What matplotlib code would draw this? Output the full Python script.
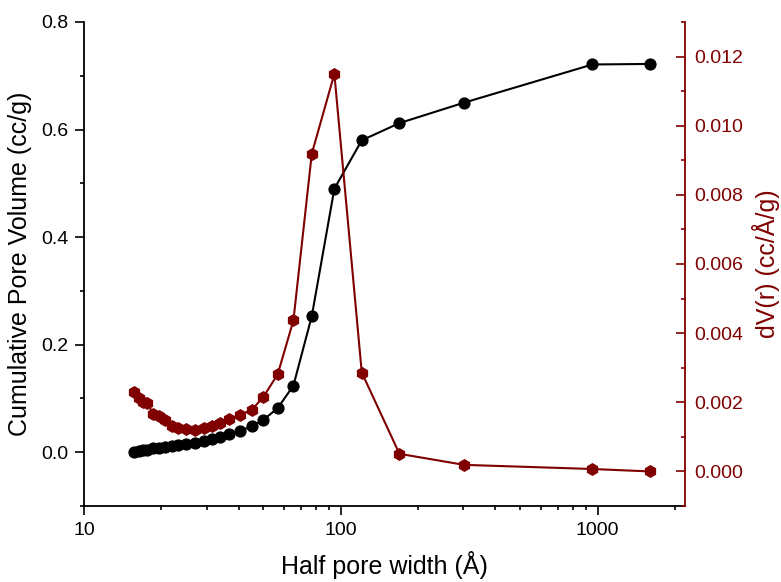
import matplotlib
matplotlib.use("Agg")
import matplotlib.pyplot as plt
from matplotlib.ticker import MultipleLocator, FixedLocator, NullFormatter, LogLocator

plt.rcParams['font.family'] = ['Liberation Sans', 'DejaVu Sans']

half_width = [15.6, 16.4, 17.0, 17.65, 18.6, 19.65, 20.7, 21.95, 23.3, 24.9, 27.0,
              29.2, 31.4, 33.9, 36.8, 40.5, 45.0, 49.9, 56.8, 65.4, 77.1, 94.4,
              120.7, 169.2, 302.0, 955.0, 1594.0]
cum_volume = [0.001, 0.003, 0.004, 0.005, 0.007, 0.008, 0.010, 0.011, 0.013, 0.015, 0.018,
              0.021, 0.024, 0.029, 0.034, 0.040, 0.048, 0.060, 0.082, 0.124, 0.253, 0.490,
              0.580, 0.612, 0.650, 0.721, 0.722]
dv = [0.00229, 0.00212, 0.00202, 0.00198, 0.00166, 0.00159, 0.00150, 0.00132, 0.00127,
      0.00124, 0.00119, 0.00126, 0.00130, 0.00140, 0.00152, 0.00164, 0.00178, 0.00215,
      0.00281, 0.00437, 0.00919, 0.01150, 0.00286, 0.00051, 0.00019, 0.00007, 0.00000]

left_ticks = [0.0, 0.2, 0.4, 0.6, 0.8]
right_ticks = [0.000, 0.002, 0.004, 0.006, 0.008, 0.010, 0.012]
x_ticks = [10, 100, 1000]

red = '#800000'

fig = plt.figure(figsize=(7.81, 5.82), dpi=100)
ax = fig.add_axes([84/781, 1-506/582, (685-84)/781, (506-22)/582])
ax2 = ax.twinx()

ax.plot(half_width, cum_volume, '-o', color='black', lw=1.5, ms=7.8, zorder=3)
ax2.plot(half_width, dv, '-h', color=red, lw=1.5, ms=8.2, zorder=3)

ax.set_xscale('log')
ax.set_xlim(10, 2190)
ax.set_ylim(-0.1, 0.8)
ax2.set_ylim(-0.001, 0.013)

ax.xaxis.set_major_locator(FixedLocator(x_ticks))
ax.set_xticklabels([str(t) for t in x_ticks])
ax.xaxis.set_minor_locator(LogLocator(base=10, subs=range(2, 10), numticks=20))
ax.xaxis.set_minor_formatter(NullFormatter())

ax.yaxis.set_major_locator(FixedLocator(left_ticks))
ax.set_yticklabels([f'{t:.1f}' for t in left_ticks])
ax.yaxis.set_minor_locator(MultipleLocator(0.1))

ax2.yaxis.set_major_locator(FixedLocator(right_ticks))
ax2.set_yticklabels([f'{t:.3f}' for t in right_ticks])
ax2.yaxis.set_minor_locator(MultipleLocator(0.001))

for a in (ax, ax2):
    a.spines['top'].set_visible(False)
    for s in a.spines.values():
        s.set_linewidth(1.3)

ax.spines['right'].set_visible(False)
ax2.spines['left'].set_visible(False)
ax2.spines['bottom'].set_visible(False)
ax2.spines['right'].set_color(red)

ax.tick_params(axis='both', which='major', direction='out', length=6.5, width=1.2,
               labelsize=14, colors='black')
ax.tick_params(axis='x', which='major', pad=5)
ax.tick_params(axis='y', which='major', pad=5)
ax.tick_params(axis='both', which='minor', direction='out', length=3.2, width=1.2)
ax.tick_params(axis='y', which='both', right=False)
ax2.tick_params(axis='y', which='major', direction='in', length=6.5, width=1.2,
                labelsize=14, colors=red, pad=7)
ax2.tick_params(axis='y', which='minor', direction='in', length=3.2, width=1.2, colors=red)

ax.set_xlabel('Half pore width (Å)', fontsize=18, labelpad=9)
ax.set_ylabel('Cumulative Pore Volume (cc/g)', fontsize=18, labelpad=6)
ax2.set_ylabel('dV(r) (cc/Å/g)', fontsize=18, color=red, labelpad=6)

fig.savefig('out.png', dpi=100)
